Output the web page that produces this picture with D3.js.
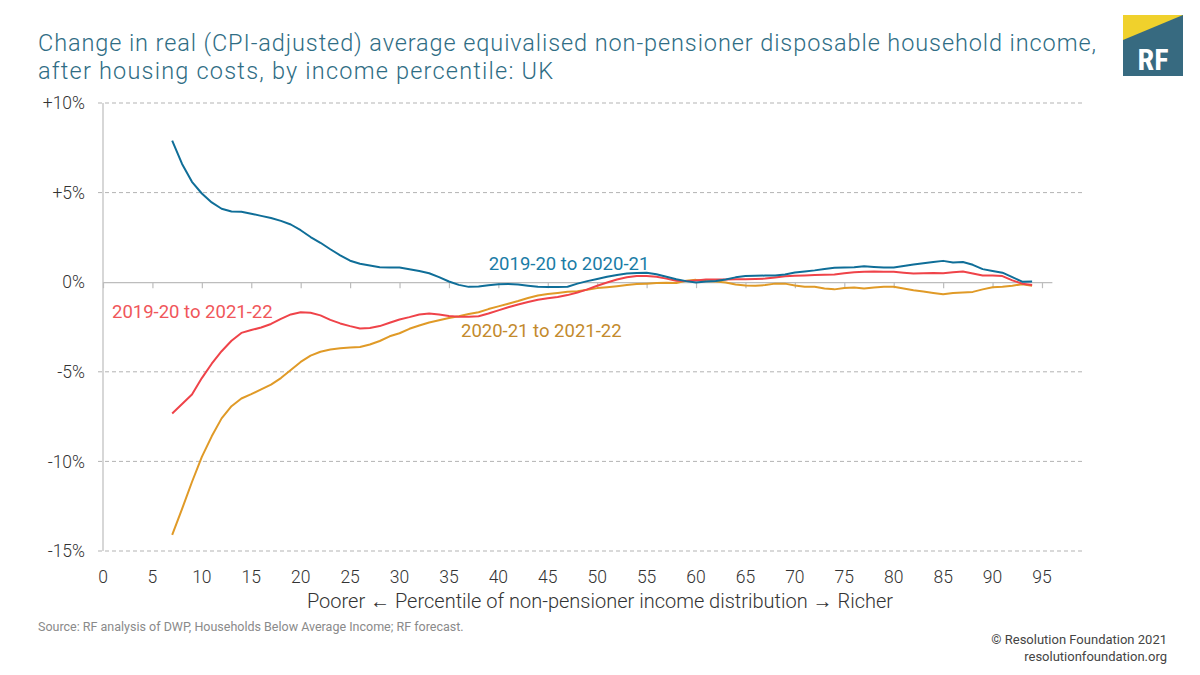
<!DOCTYPE html>
<html><head><meta charset="utf-8">
<script src="https://cdn.jsdelivr.net/npm/d3@7"></script>
<style>
html,body{margin:0;padding:0;background:#fff;}
svg{display:block;font-family:Roboto, "Open Sans", sans-serif;}
</style></head>
<body>
<svg id="chart" width="1200" height="675"></svg>
<script>
const percentiles = d3.range(7, 95);
const s1920to2021 = [7.9,6.6,5.6,4.95,4.45,4.1,3.95,3.93,3.82,3.7,3.58,3.42,3.22,2.9,2.52,2.2,1.84,1.5,1.2,1.03,0.93,0.84,0.82,0.82,0.72,0.62,0.5,0.28,0.04,-0.15,-0.26,-0.24,-0.17,-0.12,-0.1,-0.13,-0.2,-0.26,-0.27,-0.27,-0.25,-0.08,0.06,0.18,0.3,0.4,0.48,0.52,0.53,0.44,0.3,0.16,0.06,-0.02,0.04,0.07,0.15,0.27,0.34,0.36,0.37,0.38,0.43,0.54,0.6,0.66,0.74,0.8,0.82,0.83,0.89,0.85,0.82,0.82,0.9,0.99,1.06,1.13,1.19,1.1,1.13,0.97,0.73,0.63,0.53,0.28,0.03,0.04];
const s1920to2122 = [-7.33,-6.8,-6.27,-5.35,-4.55,-3.85,-3.27,-2.83,-2.67,-2.53,-2.33,-2.05,-1.8,-1.68,-1.7,-1.85,-2.1,-2.3,-2.45,-2.58,-2.55,-2.45,-2.26,-2.08,-1.95,-1.8,-1.75,-1.8,-1.88,-1.93,-1.93,-1.9,-1.75,-1.57,-1.4,-1.24,-1.1,-0.98,-0.9,-0.83,-0.72,-0.58,-0.4,-0.2,-0.02,0.15,0.28,0.35,0.35,0.3,0.2,0.08,0.06,0.1,0.15,0.15,0.15,0.16,0.17,0.18,0.2,0.26,0.33,0.36,0.38,0.4,0.41,0.43,0.5,0.56,0.59,0.6,0.59,0.58,0.53,0.48,0.5,0.52,0.5,0.55,0.6,0.48,0.37,0.37,0.34,0.1,-0.08,-0.15];
const s2021to2122 = [-14.1,-12.65,-11.15,-9.75,-8.6,-7.6,-6.92,-6.49,-6.25,-5.98,-5.72,-5.35,-4.9,-4.45,-4.1,-3.88,-3.76,-3.68,-3.64,-3.62,-3.48,-3.28,-3.02,-2.85,-2.6,-2.42,-2.25,-2.12,-2.0,-1.9,-1.78,-1.68,-1.5,-1.35,-1.2,-1.05,-0.88,-0.74,-0.66,-0.6,-0.53,-0.5,-0.42,-0.33,-0.28,-0.22,-0.16,-0.1,-0.08,-0.05,-0.03,-0.04,0.08,0.13,0.07,0.04,-0.02,-0.13,-0.19,-0.2,-0.16,-0.08,-0.08,-0.18,-0.26,-0.26,-0.35,-0.4,-0.33,-0.3,-0.35,-0.3,-0.26,-0.26,-0.35,-0.45,-0.52,-0.6,-0.67,-0.6,-0.57,-0.54,-0.4,-0.28,-0.26,-0.2,-0.11,-0.2];
const seriesNames = ["2019-20 to 2020-21","2019-20 to 2021-22","2020-21 to 2021-22"];
const xTicks = d3.range(0, 100, 5);
const yTicks = [10, 5, 0, -5, -10, -15];
const yTickLabels = ["+10%","+5%","0%","-5%","-10%","-15%"];

const svg = d3.select("#chart");
const x = d3.scaleLinear().domain([0, 96]).range([103, 103 + 96 * 9.884]);
const y = d3.scaleLinear().domain([-15, 10]).range([551, 103]);

// Title
const title = svg.append("text").attr("fill", "#2f6d84").attr("font-size", 23.5).attr("font-weight", 300);
title.append("tspan").attr("x", 38).attr("y", 51).attr("textLength", 1058).attr("lengthAdjust", "spacing")
  .text("Change in real (CPI-adjusted) average equivalised non-pensioner disposable household income,");
title.append("tspan").attr("x", 38).attr("y", 79).attr("textLength", 515).attr("lengthAdjust", "spacing")
  .text("after housing costs, by income percentile: UK");

// Logo
const lg = svg.append("g");
lg.append("rect").attr("x", 1123).attr("y", 15).attr("width", 60).attr("height", 61).attr("fill", "#376a80");
lg.append("path").attr("d", "M1123,15 L1183,15 L1123,40 Z").attr("fill", "#f0d12c");
lg.append("text").attr("x", 1153).attr("y", 70).attr("text-anchor", "middle").attr("fill", "#fff")
  .attr("font-size", 30).attr("font-weight", 700).attr("font-family", "'Roboto Condensed', Roboto, sans-serif").text("RF");

// Gridlines
svg.append("g").selectAll("line").data(yTicks.filter(d => d !== 0)).join("line")
  .attr("x1", 98).attr("x2", 1085).attr("y1", d => y(d)).attr("y2", d => y(d))
  .attr("stroke", "#b3b3b3").attr("stroke-width", 1).attr("stroke-dasharray", "4,3");

// Y axis labels
svg.append("g").selectAll("text").data(yTicks).join("text")
  .attr("x", 85).attr("y", d => y(d)).attr("dy", "0.35em").attr("text-anchor", "end")
  .attr("font-size", 17.5).attr("fill", "#333").attr("font-weight", 300)
  .text((d, i) => yTickLabels[i]);

// Y axis line
svg.append("line").attr("x1", 103).attr("x2", 103).attr("y1", y(10)).attr("y2", y(-15))
  .attr("stroke", "#bdbdbd").attr("stroke-width", 1.2);

// X axis at zero
const xAxis = d3.axisBottom(x).tickValues(xTicks).tickSize(6).tickSizeOuter(0).tickFormat("");
const xg = svg.append("g").attr("transform", `translate(0,${y(0)})`).call(xAxis);
xg.select(".domain").attr("stroke", "#bdbdbd").attr("stroke-width", 1.2);
xg.selectAll(".tick line").attr("stroke", "#bdbdbd").attr("stroke-width", 1.2);

// X tick labels at bottom
svg.append("g").selectAll("text").data(xTicks).join("text")
  .attr("x", d => x(d)).attr("y", 583).attr("text-anchor", "middle")
  .attr("font-size", 17.5).attr("fill", "#333").attr("font-weight", 300).text(d => d);

// X axis title
svg.append("text").attr("x", 600).attr("y", 608).attr("text-anchor", "middle")
  .attr("font-size", 20).attr("fill", "#333").attr("font-weight", 300)
  .text("Poorer \u2190 Percentile of non-pensioner income distribution \u2192 Richer");

// Lines
const colors = ["#0f6e98", "#ef4349", "#e09a27"];
const allSeries = [s1920to2021, s1920to2122, s2021to2122];
const line = d3.line().x((d, i) => x(percentiles[i])).y(d => y(d));
[2, 1, 0].forEach(k => {
  svg.append("path").datum(allSeries[k]).attr("d", line).attr("fill", "none")
    .attr("stroke", colors[k]).attr("stroke-width", 2).attr("stroke-linejoin", "round");
});

// Series labels
const labelColors = ["#1a7ca6", "#f0565a", "#c38a2c"];
const labelPos = [[569, 270, "middle"], [112, 318, "start"], [461, 337, "start"]];
seriesNames.forEach((n, i) => {
  svg.append("text").attr("x", labelPos[i][0]).attr("y", labelPos[i][1]).attr("text-anchor", labelPos[i][2])
    .attr("font-size", 18.5).attr("fill", labelColors[i]).text(n);
});

// Footer
svg.append("text").attr("x", 38).attr("y", 631).attr("font-size", 12.5).attr("fill", "#8a8a8a")
  .text("Source: RF analysis of DWP, Households Below Average Income; RF forecast.");
svg.append("text").attr("x", 1167).attr("y", 644).attr("text-anchor", "end").attr("font-size", 13).attr("fill", "#444")
  .text("\u00A9 Resolution Foundation 2021");
svg.append("text").attr("x", 1167).attr("y", 661).attr("text-anchor", "end").attr("font-size", 13).attr("fill", "#444")
  .text("resolutionfoundation.org");
</script>
</body></html>
